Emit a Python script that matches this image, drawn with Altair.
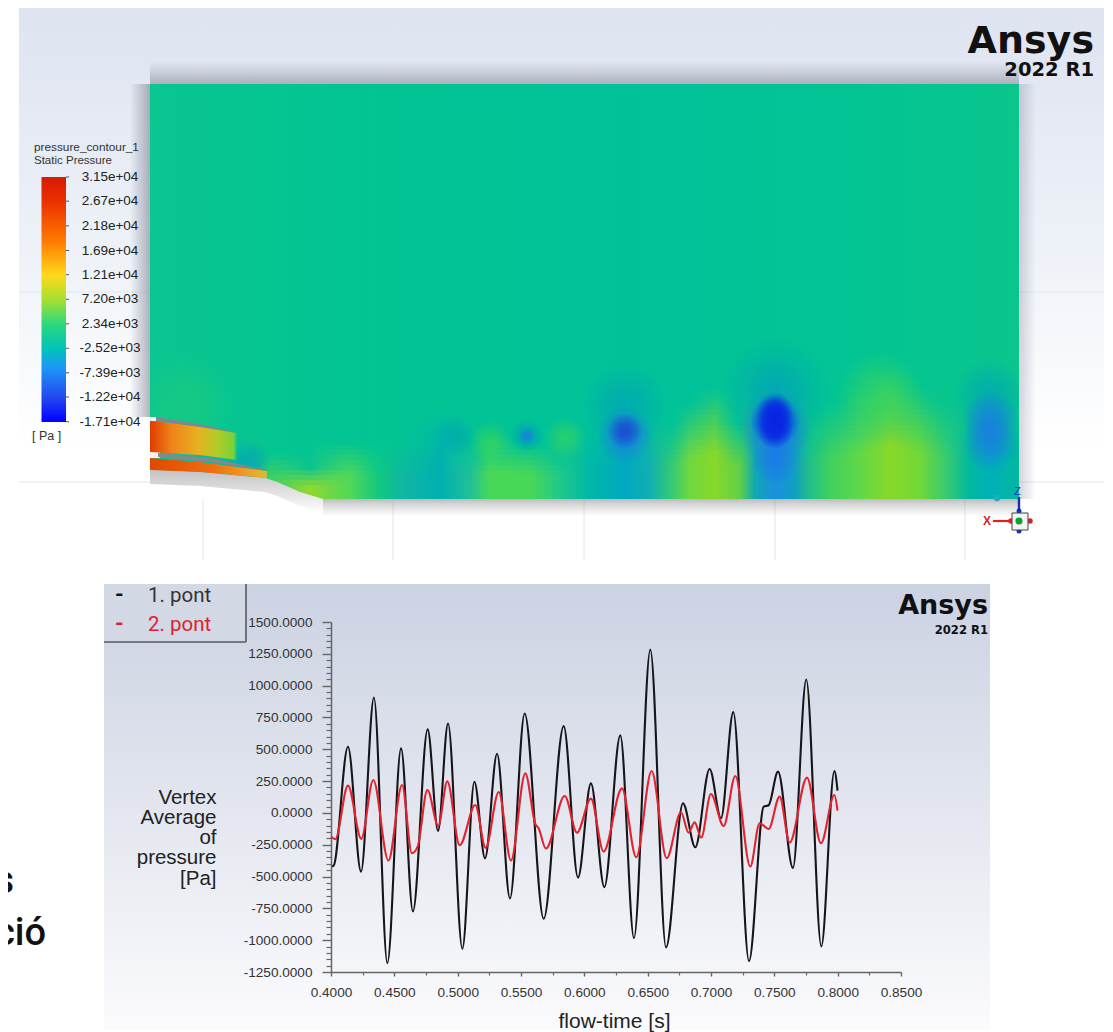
import altair as alt
import pandas as pd

# ---- pressure history (turning points and shoulders)
t_black = [0.4000,0.4020,0.4134,0.4237,0.4339,0.4445,0.4553,0.4647,0.4763,0.4845,0.4924,0.5037,0.5132,0.5216,
           0.5311,0.5413,0.5529,0.5679,0.5837,0.5950,0.6052,0.6158,0.6284,0.6392,0.6521,0.6645,0.6779,0.6876,
           0.6989,0.7079,0.7176,0.7300,0.7416,0.7455,0.7529,0.7647,0.7752,0.7871,0.7974,0.7999]
p_black = [-421,-415,520,-461,907,-1180,507,-774,656,-141,703,-1067,245,-356,
           465,-672,781,-832,682,-508,232,-583,609,-984,1283,-1057,75,-270,
           345,-42,792,-1164,49,60,324,-432,1048,-1049,329,175]
t_red = [0.4000,0.4034,0.4134,0.4239,0.4334,0.4453,0.4561,0.4639,0.4684,0.4761,0.4847,0.4918,0.5016,0.5139,
         0.5221,0.5324,0.5421,0.5534,0.5613,0.5639,0.5697,0.5845,0.5942,0.6052,0.6152,0.6297,0.6410,0.6531,
         0.6650,0.6763,0.6823,0.6871,0.6923,0.6999,0.7100,0.7192,0.7310,0.7384,0.7455,0.7542,0.7621,0.7758,
         0.7868,0.7974,0.7999]
p_red = [-186,-207,214,-204,258,-374,219,-317,-265,180,-102,248,-254,62,
         -275,164,-374,311,-87,-121,-280,133,-155,112,-304,193,-348,329,
         -356,5,-155,-74,-194,148,-103,290,-421,-81,-126,128,-233,277,
         -238,141,18]
series_names = ["1. pont", "2. pont"]
x_ticks = [0.40,0.45,0.50,0.55,0.60,0.65,0.70,0.75,0.80,0.85]
x_minor = [0.425,0.475,0.525,0.575,0.625,0.675,0.725,0.775,0.825]
y_ticks = [-1250,-1000,-750,-500,-250,0,250,500,750,1000,1250,1500]
y_minor = [v for v in range(-1250,1501,50) if v % 250 != 0]

# ---- colour bar
bar_values = [31500,26700,21800,16900,12100,7200,2340,-2520,-7390,-12200,-17100]
bar_labels = ["3.15e+04","2.67e+04","2.18e+04","1.69e+04","1.21e+04","7.20e+03","2.34e+03",
              "-2.52e+03","-7.39e+03","-1.22e+04","-1.71e+04"]

# ---- contour geometry
wall_x = [150,200,265,277,300,323,1019]
wall_y = [470,472,478,482,492,499,499]
up_x = [150,200,237]; up_top = [421,426,433]; up_bot = [452,455,460]
lo_x = [150,200,267]; lo_top = [458,462,471]; lo_bot = [470,472,478]
lip1_x = [156,200,238]; lip1_top = [417,424,433]; lip1_bot = [421,427,433]
lip2_x = [158,210,267]; lip2_top = [453,458,470]; lip2_bot = [457,462,471]

# near-wall contour colours read along the lower wall:
# position, colour at the wall, height at which that colour has faded out
wall_pos   = [150,240,270,310,350,380,400,440,470,490,530,560,590,625,650,670,690,715,740,755,775,795,810,830,860,890,920,950,970,990,1019]
wall_col   = ["#00c490","#00b0b0","#40d060","#90d830","#50d858","#10c880","#10b8a0","#00b0b0","#20c098","#48d858","#48d858","#20c888","#00b8a8",
              "#00a8c0","#10b0b0","#30c878","#70d840","#88d828","#60d048","#10a8b0","#1890e0","#10a0c0","#20c088","#40d060","#60d848","#88d828",
              "#70d838","#30c878","#00b8a0","#00b0b8","#00b8a0"]
wall_fade  = [470,430,450,465,440,440,440,405,440,430,440,440,420,385,410,420,400,385,420,370,355,370,410,400,385,370,385,400,400,375,390]
strip_edges = list(range(355,500,5)) + [500]

# contour spots: centre x, centre y, radius
faint_spots = [(185,405,55)]
teal_spots  = [(775,392,62),(625,405,48),(252,460,22),(527,436,20),(527,436,17),(455,437,24),(990,395,42)]
green_spots = [(490,442,24),(565,438,24),(880,395,50)]
blue_spots  = [(775,430,42),(775,462,26),(625,435,32),(990,420,32),(990,442,32),(527,436,9)]
dblue_spots = [(775,421,28),(775,421,22),(775,410,20),(775,432,20)]
core_spots  = [(625,431,20)]

OX, OY = 331, 622      # where the line plot starts on the page
PW, PH = 570, 350

def px(v): return alt.value(v - OX)
def py(v): return alt.value(v - OY)

xs = alt.Scale(domain=[150,1019], range=[150-OX,1019-OX], nice=False, zero=False)
ys = alt.Scale(domain=[84,560], range=[84-OY,560-OY], nice=False, zero=False)
X = lambda f="x": alt.X(f"{f}:Q", scale=xs, axis=None)
Y = lambda f="y": alt.Y(f"{f}:Q", scale=ys, axis=None)

def stops(*pairs):
    return [alt.GradientStop(offset=o, color=c) for o, c in pairs]
def vgrad(*pairs):
    return alt.LinearGradient(gradient="linear", stops=stops(*pairs), x1=0, x2=0, y1=0, y2=1)
def hgrad(*pairs):
    return alt.LinearGradient(gradient="linear", stops=stops(*pairs), x1=0, x2=1, y1=0, y2=0)
def rgrad(rgb, a):
    r, g, b = rgb
    return alt.RadialGradient(gradient="radial", x1=.5, y1=.5, x2=.5, y2=.5, r1=0, r2=.5,
        stops=stops((0, f"rgba({r},{g},{b},{a})"), (.45, f"rgba({r},{g},{b},{a*.7})"), (1, f"rgba({r},{g},{b},0)")))

ONE = alt.Data(values=[{"a": 1}])
def box(x0, y0, x1, y1, fill):
    return alt.Chart(ONE).mark_rect(fill=fill).encode(x=px(x0), x2=px(x1), y=py(y0), y2=py(y1))
def txt(s, x, y, size, color="#222222", font="Liberation Sans", align="left", weight="normal"):
    return alt.Chart(ONE).mark_text(text=s, fontSize=size, color=color, font=font, align=align,
                                    baseline="alphabetic", fontWeight=weight).encode(x=px(x), y=py(y))
def seg(x0, y0, x1, y1, color, w=1.0):
    return alt.Chart(ONE).mark_rule(color=color, strokeWidth=w).encode(x=px(x0), x2=px(x1), y=py(y0), y2=py(y1))
def dot(x, y, color, size):
    return alt.Chart(ONE).mark_circle(color=color, size=size, opacity=1).encode(x=px(x), y=py(y))
def spots(rows, fill):
    df = pd.DataFrame(rows, columns=["x","y","r"])
    df["s"] = 3.14159 * df["r"]**2
    return alt.Chart(df).mark_circle(fill=fill, opacity=1, strokeWidth=0).encode(x=X(), y=Y(), size=alt.Size("s:Q", scale=None, legend=None))
def band(xv, top, bot, fill):
    df = pd.DataFrame({"x": xv, "y": top, "y2": bot})
    return alt.Chart(df).mark_area(fill=fill, opacity=1).encode(x=X(), y=Y(), y2=alt.Y2("y2:Q"))
def wall_strip(y0, y1):
    ps = []
    for p, c, f in zip(wall_pos, wall_col, wall_fade):
        a = max(0.0, min(1.0, 1.75 * (y0 - f) / (499 - f)))
        r, g, b = int(c[1:3],16), int(c[3:5],16), int(c[5:7],16)
        ps.append(((p-150)/869, f"rgba({r},{g},{b},{a:.3f})"))
    return box(150, y0, 1019, y1, hgrad(*ps))

BG = vgrad((0,"#dde3f0"),(.45,"#eef2f8"),(.8,"#ffffff"),(1,"#ffffff"))
layers = []
# top picture
layers.append(box(19,5,1104,560,BG))
layers.append(band(wall_x, [84]*len(wall_x), wall_y,
                   hgrad((0,"#0ac690"),(.3,"#00c494"),(.55,"#00c29a"),(.8,"#02c494"),(1,"#0ac68c"))))
for a, b in zip(strip_edges[:-1], strip_edges[1:]):
    layers.append(wall_strip(a, b))
layers += [spots(faint_spots, rgrad((70,216,80),.22)),
           spots(green_spots, rgrad((70,216,80),.55)),
           spots(teal_spots, rgrad((0,165,180),.7)),
           spots(blue_spots, rgrad((28,118,232),.72)),
           spots(core_spots, rgrad((30,60,210),.8)),
           spots(dblue_spots, rgrad((8,36,228),.9))]
# everything that spills beyond the domain is hidden again
layers.append(box(19,5,150,560,BG))
layers.append(box(1019,5,1104,560,BG))
layers.append(box(19,499,1104,560,"#ffffff"))
layers.append(band(wall_x, wall_y, [499]*len(wall_x), "#ffffff"))
# grid behind the domain
for gx in [203,393,584,775,965]:
    layers.append(seg(gx,499,gx,560,"#e4e6ea"))
    layers.append(seg(gx,5,gx,84,"#e3e6ee"))
for gy in [100,292,482]:
    layers.append(seg(19,gy,150,gy,"#e4e6ec"))
    layers.append(seg(1019,gy,1104,gy,"#e4e6ec"))
# shadows
S = "rgba(105,110,125,"
layers.append(box(150,62,1019,84,vgrad((0,S+"0)"),(1,S+".45)"))))
layers.append(box(130,84,150,417,hgrad((0,S+"0)"),(1,S+".5)"))))
layers.append(box(1019,84,1036,499,hgrad((0,"rgba(130,135,155,.35)"),(1,"rgba(130,135,155,0)"))))
layers.append(box(323,499,1019,516,vgrad((0,"rgba(120,120,125,.5)"),(.3,"rgba(120,120,125,.3)"),(1,"rgba(120,120,125,0)"))))
layers.append(band(wall_x[:6],wall_y[:6],[v+14 for v in wall_y[:6]],vgrad((0,"rgba(120,120,125,.45)"),(1,"rgba(120,120,125,0)"))))
# nozzle
layers.append(box(150,452,160,458,"#f2f3f5"))
layers.append(box(150,417,156,421,"#f2f3f5"))
layers.append(band(up_x,up_top,up_bot,hgrad((0,"#e03c00"),(.25,"#ee8418"),(.55,"#e8b020"),(.78,"#b0cc28"),(.96,"#78d238"),(1,"rgba(90,210,70,.2)"))))
layers.append(band(lo_x,lo_top,lo_bot,hgrad((0,"#e04800"),(.55,"#ee7010"),(.9,"#f0a828"),(1,"#d0c030"))))
layers.append(band(lip1_x,lip1_top,lip1_bot,"#7f8791"))
layers.append(band(lip2_x,lip2_top,lip2_bot,"#808a90"))

# colour bar
cbs = alt.Scale(domain=[-17100,31500], range=[421.7-OY,177-OY], nice=False, zero=False)
layers.append(box(41.5,177,66,422,vgrad((0,"#d81a00"),(.1,"#ea3000"),(.26,"#ff7a00"),(.4,"#ffd81a"),(.5,"#a8e030"),
    (.6,"#2cd87c"),(.7,"#00c4b8"),(.78,"#1c96f8"),(.9,"#2448f0"),(1,"#0000ff"))))
cdf = pd.DataFrame({"v": bar_values, "label": bar_labels})
layers.append(alt.Chart(cdf).mark_rule(color="#555555", strokeWidth=1).encode(
    x=px(66), x2=px(69), y=alt.Y("v:Q", scale=cbs, axis=None)))
layers.append(alt.Chart(cdf).mark_text(fontSize=13.5, font="Liberation Sans", color="#222222", align="center").encode(
    x=px(110), y=alt.Y("v:Q", scale=cbs, axis=None), text="label:N"))
layers += [txt("pressure_contour_1",34,151,11.8,"#333333"), txt("Static Pressure",34,164,11.5,"#333333"),
           txt("[ Pa ]",32,440,12.5,"#333333")]
# logo + triad
layers += [txt("Ansys",1094,53,38,"#111111","DejaVu Sans","right","bold"),
           txt("2022 R1",1094,76,19.5,"#111111","DejaVu Sans","right","bold")]
layers += [dot(1011,521,"#e02020",30), dot(1030,521,"#e02020",30), dot(1019,511,"#1030c0",25), dot(1019,531,"#1030c0",25),
           txt("X",983,525,12,"#e02020","Liberation Sans","left","bold"), seg(993,521,1012,521,"#e02020",2.2),
           txt("Z",1014,495,11,"#1030c0"), seg(1019,497,1019,513,"#1030c0",2.4),
           box(1012,513,1028,530,"#f4f4f4"), seg(1012,513,1028,513,"#444444"), seg(1012,530,1028,530,"#444444"),
           seg(1012,513,1012,530,"#444444"), seg(1028,513,1028,530,"#444444"),
           dot(1019,521,"#10a030",50), dot(997,498,"#18b0c0",40)]

# lower-left page text
layers += [txt("s",14,893,38,"#111111","Roboto","right",500), txt("ció",46,945,38,"#111111","Roboto","right",500)]

# bottom picture
layers.append(box(104,584,990,1030,vgrad((0,"#cbd2e2"),(.5,"#e3e6ef"),(1,"#fbfbfd"))))
layers.append(box(104,584,246,642,"#d3d8e5"))
layers.append(seg(104,642,246,642,"#555a66",1.6))
layers.append(seg(246,584,246,642,"#555a66",1.6))
layers += [txt("-",115,602,22,"#111111","Roboto","left","bold"), txt(series_names[0],148,602,20.5,"#333333","Roboto"),
           txt("-",115,631,22,"#e02030","Roboto","left","bold"), txt(series_names[1],148,631,20.5,"#e02030","Roboto")]
layers += [txt("Ansys",988,614,27,"#111111","DejaVu Sans","right","bold"),
           txt("2022 R1",988,634,11.6,"#111111","DejaVu Sans","right","bold")]

# minor ticks: a second, label-free pair of axes over the same ranges
x_dom = [0.40,0.85]; y_dom = [-1250,1500]
mdf = pd.DataFrame({"t":[0.5],"p":[0]})
layers.append(alt.Chart(mdf).mark_point(opacity=0).encode(
    x=alt.X("t:Q", scale=alt.Scale(domain=x_dom,nice=False,zero=False),
            axis=alt.Axis(values=x_minor,labels=False,title=None,domain=False,grid=False,tickSize=3,tickWidth=1.2,tickColor="#666666",orient="bottom",zindex=1)),
    y=alt.Y("p:Q", scale=alt.Scale(domain=y_dom,nice=False,zero=False),
            axis=alt.Axis(values=y_minor,labels=False,title=None,domain=False,grid=False,tickSize=5,tickWidth=1.2,tickColor="#666666",orient="left",zindex=1))))

# the two series with the main axes
ldf = pd.concat([pd.DataFrame({"t":t_black,"p":p_black,"series":series_names[0]}),
                 pd.DataFrame({"t":t_red,"p":p_red,"series":series_names[1]})])
layers.append(alt.Chart(ldf).mark_line(interpolate="monotone", strokeWidth=2.1).encode(
    x=alt.X("t:Q", scale=alt.Scale(domain=x_dom,nice=False,zero=False),
            axis=alt.Axis(values=x_ticks,format=".4f",title="flow-time [s]",grid=False,orient="bottom",zindex=1,
                          domainColor="#666666",domainWidth=1.5,tickColor="#666666",tickWidth=1.4,tickSize=4,
                          labelFont="Liberation Sans",labelFontSize=13.6,labelColor="#333333",labelPadding=9,labelFlush=False,
                          labelOverlap=False,titleFont="Liberation Sans",titleFontSize=21,titleFontWeight="normal",titleColor="#222222",
                          titleX=283,titleY=55,titleBaseline="alphabetic")),
    y=alt.Y("p:Q", scale=alt.Scale(domain=y_dom,nice=False,zero=False),
            axis=alt.Axis(values=y_ticks,format=".4f",labelExpr="replace(datum.label,'\u2212','-')",
                          title=["Vertex","Average","of","pressure","[Pa]"],grid=False,orient="left",zindex=1,
                          domainColor="#666666",domainWidth=1.5,tickColor="#666666",tickWidth=1.4,tickSize=9,
                          labelFont="Liberation Sans",labelFontSize=13.6,labelColor="#333333",labelPadding=10,
                          labelOverlap=False,labelFlush=False,titleFont="Liberation Sans",titleFontSize=20.5,titleFontWeight="normal",titleColor="#222222",
                          titleAngle=0,titleAlign="right",titleBaseline="alphabetic",titleX=-115,titleY=181,titleLineHeight=20.3)),
    color=alt.Color("series:N", scale=alt.Scale(domain=series_names, range=["#15151a","#e3222e"]), legend=None),
    order=alt.Order("t:Q")))

chart = alt.layer(*layers).resolve_scale(x="independent", y="independent").properties(
    width=PW, height=PH, background="white",
    autosize=alt.AutoSizeParams(type="none"),
    padding={"left":OX-8,"top":OY-8,"right":1105-OX-PW,"bottom":1032-OY-PH},
).configure_view(strokeWidth=0)

chart.save("out.html", embed_options={"renderer":"svg","actions":False})
